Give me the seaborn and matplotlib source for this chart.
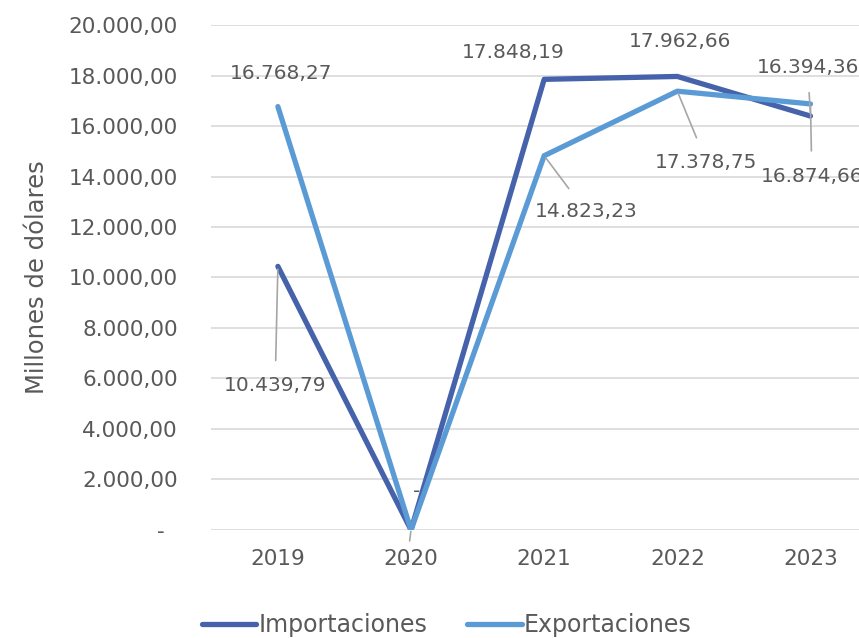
import pandas as pd
import numpy as np
import seaborn as sns
import matplotlib.pyplot as plt
from matplotlib.ticker import FuncFormatter

years = ['2019', '2020', '2021', '2022', '2023']
importaciones = [10439.79, 0.0, 17848.19, 17962.66, 16394.36]
exportaciones = [16768.27, 0.0, 14823.23, 17378.75, 16874.66]
series_names = ['Importaciones', 'Exportaciones']
y_ticks = [0, 2000, 4000, 6000, 8000, 10000, 12000, 14000, 16000, 18000, 20000]

df = pd.DataFrame({
    'year': years * 2,
    'value': importaciones + exportaciones,
    'serie': [series_names[0]] * 5 + [series_names[1]] * 5,
})

sns.set_theme(style='white')
plt.rcParams['font.family'] = ['DejaVu Sans']
text_color = '#595959'

fig = plt.figure(figsize=(8.59, 6.38), dpi=100)
ax = fig.add_axes([0.246, 0.1693, 0.775, 0.7915])

sns.lineplot(data=df, x='year', y='value', hue='serie', ax=ax,
             palette={'Importaciones': '#4562AA', 'Exportaciones': '#5B9BD5'},
             linewidth=3.8, sort=False, legend=True)
for line in ax.lines:
    line.set_solid_capstyle('round')
    line.set_solid_joinstyle('round')


def fmt_num(v):
    if v == 0:
        return '–'
    s = f'{v:,.2f}'
    return s.replace(',', 'X').replace('.', ',').replace('X', '.')


ax.set_xlim(-0.5, 4.5)
ax.set_ylim(0, 20000)
ax.set_yticks(y_ticks)
ax.yaxis.set_major_formatter(FuncFormatter(lambda v, p: '-  ' if v == 0 else fmt_num(v)))
ax.grid(axis='y', color='#D9D9D9', linewidth=1.2)
ax.grid(axis='x', visible=False)
for s in ax.spines.values():
    s.set_visible(False)
ax.tick_params(axis='y', length=0, pad=24, labelsize=15.5, labelcolor=text_color)
ax.tick_params(axis='x', length=0, pad=14, labelsize=15.5, labelcolor=text_color)
ax.set_xlabel('')
ax.set_ylabel('Millones de dólares', fontsize=17.5, color=text_color, labelpad=14)

# data labels (offsets in points from the data point)
label_size = 14.5
label_specs = [
    (0, importaciones[0], (-2, -86), True),
    (2, importaciones[2], (-22, 19), False),
    (3, importaciones[3], (2, 25), False),
    (4, importaciones[4], (-2, 35), True),
    (0, exportaciones[0], (2, 24), False),
    (2, exportaciones[2], (30, -40), True),
    (3, exportaciones[3], (21, -51), True),
    (4, exportaciones[4], (1, -52), True),
]
for xi, yv, off, lead in label_specs:
    ax.annotate(fmt_num(yv), xy=(xi, yv), xytext=off, textcoords='offset points',
                ha='center', va='center', fontsize=label_size, color=text_color,
                arrowprops=dict(arrowstyle='-', color='#A6A6A6', lw=1.2,
                                shrinkA=9, shrinkB=2) if lead else None)

# zero labels for 2020
ax.annotate('-', xy=(1, importaciones[1]), xytext=(4, 28), textcoords='offset points',
            ha='center', va='center', fontsize=label_size, color=text_color)
ax.annotate('-', xy=(1, exportaciones[1]), xytext=(-3, -23), textcoords='offset points',
            ha='center', va='center', fontsize=label_size, color=text_color,
            arrowprops=dict(arrowstyle='-', color='#A6A6A6', lw=1.2,
                            shrinkA=6, shrinkB=1))

handles, labels = ax.get_legend_handles_labels()
ax.get_legend().remove()
fig.legend(handles, labels, loc='lower center', bbox_to_anchor=(0.52, -0.032),
           ncol=2, frameon=False, fontsize=17, handlelength=2.3,
           handletextpad=0.1, columnspacing=1.7, labelcolor=text_color)

fig.savefig('out.png', dpi=100)
